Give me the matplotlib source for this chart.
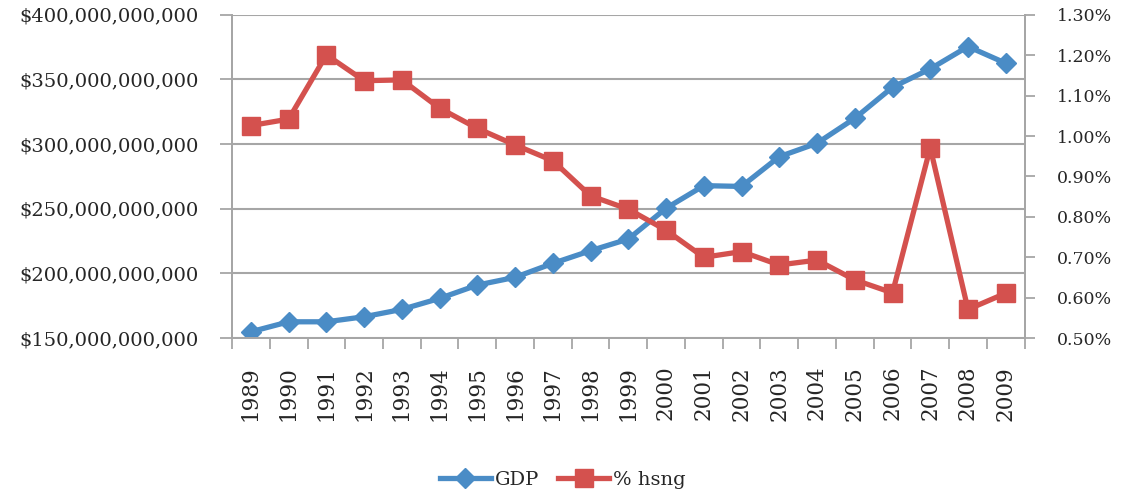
import matplotlib
matplotlib.use("Agg")
import matplotlib.pyplot as plt
import matplotlib.ticker as mticker
import numpy as np

years = [str(y) for y in range(1989, 2010)]

# GDP, billions of dollars
gdp_bn = [154.9, 162.6, 162.6, 166.5, 172.2, 180.7, 191.0, 197.0, 207.8, 217.6,
          226.6, 250.4, 267.9, 267.3, 290.3, 300.7, 320.0, 344.0, 358.2, 375.5, 362.6]

# housing share, percent
hsng_pct = [1.026, 1.042, 1.201, 1.137, 1.139, 1.069, 1.019, 0.978, 0.939, 0.852,
            0.819, 0.767, 0.700, 0.714, 0.681, 0.693, 0.644, 0.612, 0.971, 0.571, 0.611]

blue = "#4a8cc6"
red = "#d4514e"
grey = "#a6a6a6"
txt = "#262626"
plt.rcParams["font.family"] = ["DejaVu Serif"]

x = np.arange(len(years))
gdp = np.array(gdp_bn) * 1e9

fig = plt.figure(figsize=(11.21, 4.95), dpi=100)
ax = fig.add_axes([0.207, 0.317, 0.707, 0.653])
ax2 = ax.twinx()

ax.plot(x, gdp, color=blue, lw=3.8, marker="D", ms=10.5, label="GDP")
ax2.plot(x, hsng_pct, color=red, lw=3.8, marker="s", ms=12.5, label="% hsng")

ax.set_xlim(-0.5, len(years) - 0.5)
ax.set_ylim(150e9, 400e9)
ax2.set_ylim(0.5, 1.3)
ax.yaxis.set_major_locator(mticker.MultipleLocator(50e9))
ax2.yaxis.set_major_locator(mticker.MultipleLocator(0.1))
ax.yaxis.set_major_formatter(mticker.FuncFormatter(lambda v, p: "${:,.0f}".format(v)))
ax2.yaxis.set_major_formatter(mticker.FuncFormatter(lambda v, p: "{:.2f}%".format(v)))

ax.set_xticks(x)
ax.set_xticklabels(years, rotation=90)
ax.set_xticks(np.arange(-0.5, len(years), 1.0), minor=True)
ax.tick_params(axis="x", which="major", length=0, pad=20, labelsize=15.5, labelcolor=txt)
ax.tick_params(axis="x", which="minor", length=8, width=1.3, color=grey)
ax.tick_params(axis="y", length=9, width=1.3, color=grey, pad=15, labelsize=14, labelcolor=txt)
ax2.tick_params(axis="y", length=7, width=1.3, color=grey, pad=16, labelsize=12.5, labelcolor=txt)

ax.grid(axis="y", color=grey, lw=1.5)
ax.set_axisbelow(True)
for a in (ax, ax2):
    a.spines["top"].set_visible(False)
    for s in ("left", "right", "bottom"):
        a.spines[s].set_color(grey)
        a.spines[s].set_linewidth(1.3)

h1, l1 = ax.get_legend_handles_labels()
h2, l2 = ax2.get_legend_handles_labels()
fig.legend(h1 + h2, l1 + l2, loc="center", bbox_to_anchor=(0.502, 0.03), ncol=2,
           frameon=False, fontsize=14, handlelength=2.6, columnspacing=1.0,
           handletextpad=0.2, labelcolor=txt)

fig.savefig("out.png", dpi=100)
